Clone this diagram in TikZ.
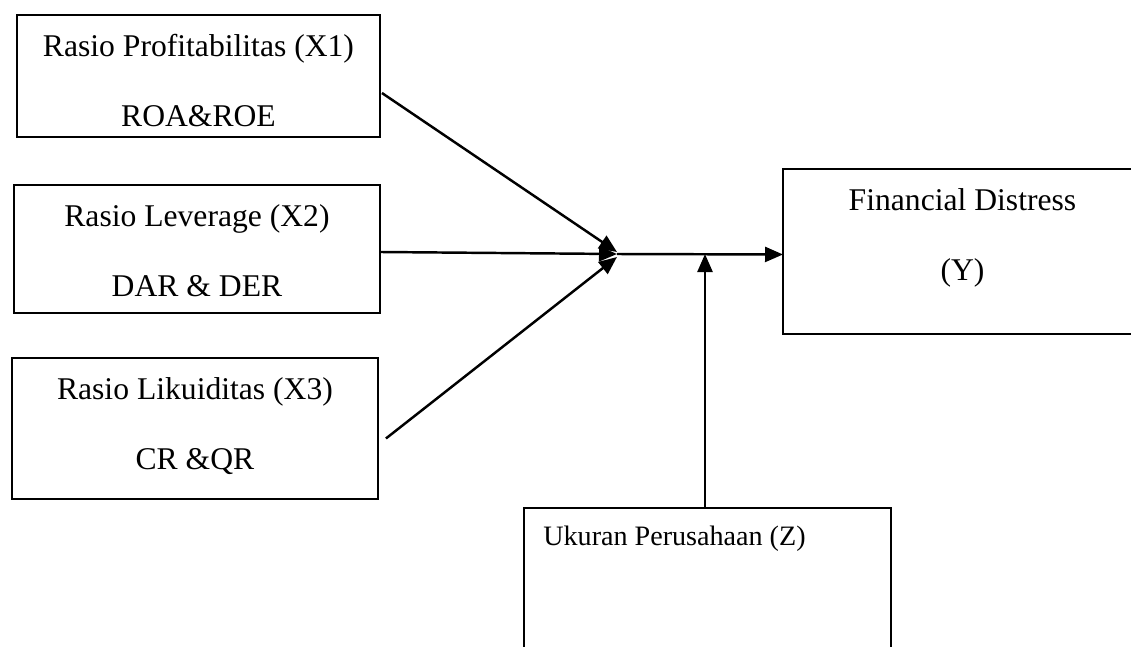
\documentclass[tikz,border=0pt]{standalone}
\usepackage{fontspec}
\setmainfont{Liberation Serif}
\usetikzlibrary{positioning,calc,arrows.meta}

\begin{document}
\begin{tikzpicture}[x=0.02cm,y=-0.02cm]
  \path[use as bounding box,clip] (0,0) rectangle (1131,646);
  \begin{scope}[
    every node/.style={
      draw,
      line width=1pt,
      anchor=north west,
      inner sep=0pt,
      outer sep=0pt,
    },
    ]
    \node[minimum width=7.26cm,minimum height=2.44cm] (x1) at (17,15) {};
    \node[minimum width=7.32cm,minimum height=2.56cm] (x2) at (14,185) {};
    \node[minimum width=7.32cm,minimum height=2.82cm] (x3) at (12,358) {};
    \node[minimum width=7.18cm,minimum height=3.30cm] (fd) at (783,169) {};
    \node[minimum width=7.34cm,minimum height=3.60cm] (uk) at (524,508) {};
  \end{scope}
  \begin{scope}[
    every node/.style={
      anchor=base,
      inner sep=0pt,
      font=\fontsize{18}{20}\selectfont,
    },
    ]
    \node (x1-top) at ($(x1.north)+(0,41)$) {Rasio Profitabilitas (X1)};
    \node (x1-bot) at ($(x1-top.base)+(0,70)$) {ROA\&ROE};
    \node (x2-top) at ($(x2.north)+(0,41)$) {Rasio Leverage (X2)};
    \node (x2-bot) at ($(x2-top.base)+(0,70)$) {DAR \& DER};
    \node (x3-top) at ($(x3.north)+(0,41)$) {Rasio Likuiditas (X3)};
    \node (x3-bot) at ($(x3-top.base)+(0,70)$) {CR \&QR};
    \node (fd-top) at ($(fd.north)+(0,41)$) {Financial Distress};
    \node (fd-bot) at ($(fd-top.base)+(0,70)$) {(Y)};
    \node[anchor=base west,font=\fontsize{16}{18}\selectfont]
      (uk-top) at ($(uk.north west)+(19,37)$) {Ukuran Perusahaan (Z)};
  \end{scope}
  \coordinate (hub) at (617,254);
  \coordinate (tap) at (705,254);
  \begin{scope}[
    every edge/.append style={line width=1.4pt},
    >={Triangle[length=0.36cm,width=0.3cm]},
    ]
    \path[->]
    ($(x1.east)+(2,17)$) edge ($(hub)+(0,-2)$)
    ($(x2.east)+(0,3)$) edge (hub)
    ($(x3.east)+(8,10)$) edge ($(hub)+(0,3)$)
    (hub) edge ($(fd.west)+(0,3)$)
    (uk.north -| tap) edge (tap);
  \end{scope}
\end{tikzpicture}
\end{document}
